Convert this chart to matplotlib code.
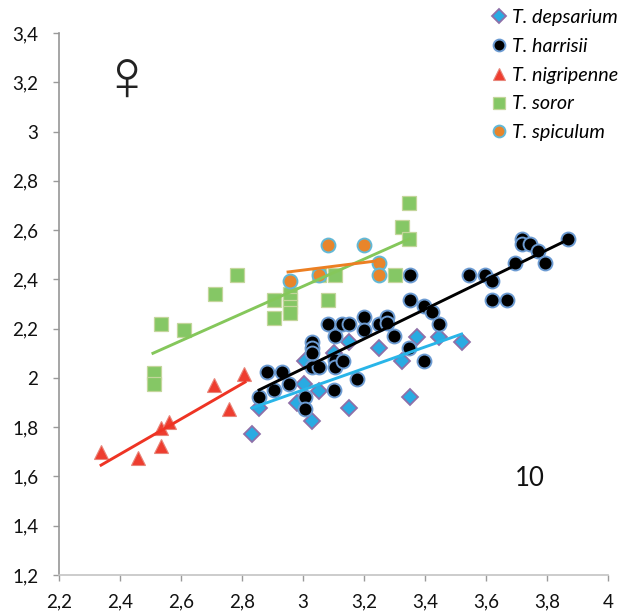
#!/usr/bin/env python3
import matplotlib
matplotlib.use("Agg")
import matplotlib.pyplot as plt

plt.rcParams['font.family'] = ['Lato', 'DejaVu Sans']

# (x, y), one pair of lists per species
depsarium_x = [2.833, 2.856, 2.98, 3.003, 3.03, 3.052, 3.15, 3.007, 3.10, 3.15, 3.25, 3.325, 3.35, 3.374, 3.446, 3.52]
depsarium_y = [1.772, 1.878, 1.898, 1.975, 1.825, 1.947, 1.878, 2.068, 2.10, 2.146, 2.121, 2.068, 1.922, 2.166, 2.166, 2.146]

harrisii_x = [2.856, 2.882, 2.905, 2.931, 2.954, 3.007, 3.007, 3.03, 3.03, 3.03, 3.03, 3.052, 3.082, 3.105, 3.105, 3.105,
              3.13, 3.10, 3.128, 3.15, 3.177, 3.2, 3.2, 3.25, 3.275, 3.275, 3.298, 3.348, 3.397, 3.35, 3.35, 3.397,
              3.423, 3.446, 3.544, 3.597, 3.62, 3.62, 3.669, 3.695, 3.718, 3.718, 3.744, 3.77, 3.793, 3.869]
harrisii_y = [1.922, 2.024, 1.951, 2.024, 1.975, 1.922, 1.874, 2.146, 2.121, 2.10, 2.044, 2.044, 2.219, 2.17, 2.073, 2.044,
              2.068, 1.951, 2.219, 2.219, 1.995, 2.247, 2.194, 2.219, 2.247, 2.222, 2.17, 2.121, 2.068, 2.417, 2.316, 2.292,
              2.267, 2.219, 2.417, 2.417, 2.393, 2.316, 2.316, 2.466, 2.564, 2.543, 2.543, 2.515, 2.466, 2.564]

nigripenne_x = [2.338, 2.459, 2.534, 2.534, 2.56, 2.708, 2.757, 2.807]
nigripenne_y = [1.70, 1.675, 1.797, 1.724, 1.82, 1.97, 1.874, 2.016]

soror_x = [2.511, 2.511, 2.534, 2.61, 2.711, 2.784, 2.905, 2.905, 2.957, 2.957, 2.957, 2.957, 3.052, 3.105, 3.082, 3.30, 3.325, 3.348, 3.348]
soror_y = [2.02, 1.975, 2.219, 2.194, 2.34, 2.417, 2.316, 2.243, 2.34, 2.316, 2.288, 2.263, 2.417, 2.417, 2.316, 2.417, 2.612, 2.564, 2.71]

spiculum_x = [2.957, 3.052, 3.082, 3.2, 3.25, 3.25]
spiculum_y = [2.393, 2.417, 2.54, 2.54, 2.466, 2.417]

# trend line end points
depsarium_trend = ([2.833, 3.52], [1.878, 2.178])
harrisii_trend = ([2.856, 3.852], [1.951, 2.551])
nigripenne_trend = ([2.338, 2.81], [1.646, 1.983])
soror_trend = ([2.508, 3.348], [2.10, 2.564])
spiculum_trend = ([2.951, 3.236], [2.43, 2.474])

x_ticks = [2.2, 2.4, 2.6, 2.8, 3, 3.2, 3.4, 3.6, 3.8, 4]
y_ticks = [1.2, 1.4, 1.6, 1.8, 2, 2.2, 2.4, 2.6, 2.8, 3, 3.2, 3.4]


def comma(v):
    return f"{v:g}".replace(".", ",")


def main():
    fig = plt.figure(figsize=(6.22, 6.15), dpi=100)
    ax = fig.add_axes([59 / 622, 1 - 575 / 615, 549 / 622, 542 / 615])

    ax.plot(depsarium_x, depsarium_y, ls="none", marker="D", ms=8.6, mfc="#29abe2", mec="#8f70a8", mew=1.3,
            label="T. depsarium")
    ax.plot(harrisii_x, harrisii_y, ls="none", marker="o", ms=10, mfc="black", mec="#6c9bd2", mew=1.4,
            label="T. harrisii")
    ax.plot(nigripenne_x, nigripenne_y, ls="none", marker="^", ms=9.6, mfc="#ee3d2f", mec="#e8857a", mew=0.8,
            label="T. nigripenne")
    ax.plot(soror_x, soror_y, ls="none", marker="s", ms=10, mfc="#85c765", mec="#c3d69b", mew=0.9,
            label="T. soror")
    ax.plot(spiculum_x, spiculum_y, ls="none", marker="o", ms=10, mfc="#e8852b", mec="#62b8d6", mew=1.4,
            label="T. spiculum")

    ax.plot(*depsarium_trend, color="#29b5e8", lw=2.1)
    ax.plot(*harrisii_trend, color="black", lw=2.1)
    ax.plot(*nigripenne_trend, color="#ee3424", lw=2.1)
    ax.plot(*soror_trend, color="#85c75b", lw=2.1)
    ax.plot(*spiculum_trend, color="#ec7f22", lw=2.1)

    ax.set_xlim(2.2, 4)
    ax.set_ylim(1.2, 3.4)
    ax.set_xticks(x_ticks, [comma(v) for v in x_ticks])
    ax.set_yticks(y_ticks, [comma(v) for v in y_ticks])
    ax.tick_params(labelsize=13.5, colors="#9a9a9a", labelcolor="#111111", length=4, width=1)
    ax.tick_params(axis="x", pad=19.5)
    ax.tick_params(axis="y", pad=11)
    for lab in ax.get_xticklabels():
        lab.set_va("baseline")

    for side in ("top", "right"):
        ax.spines[side].set_visible(False)
    ax.spines["left"].set_color("#969696")
    ax.spines["left"].set_linewidth(1.2)
    ax.spines["bottom"].set_color("#c4c4c4")
    ax.spines["bottom"].set_linewidth(1.2)

    # female symbol and panel number
    ax.text(2.422, 3.2, "\u2640", family=["Liberation Sans", "DejaVu Sans"], fontsize=52, ha="center", va="center",
            color="#222222")
    ax.text(3.745, 1.59, "10", fontsize=18.5, ha="center", va="center", color="#111111")

    leg = ax.legend(loc="upper left", bbox_to_anchor=(482 / 622, 1 - 5 / 615), bbox_transform=fig.transFigure,
                    frameon=False, borderpad=0.2, borderaxespad=0, handletextpad=0.0, labelspacing=0.6,
                    handlelength=1.3, markerscale=0.85, prop={"size": 14.2, "style": "italic"})
    leg.set_zorder(5)

    fig.savefig("out.png", dpi=100)


if __name__ == "__main__":
    main()
